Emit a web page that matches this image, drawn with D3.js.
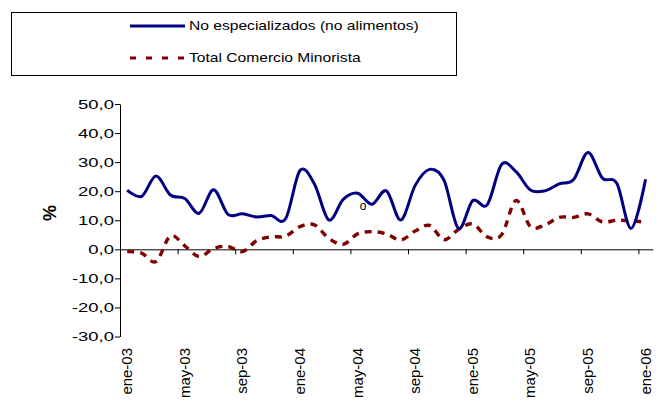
<!DOCTYPE html>
<html><head><meta charset="utf-8">
<script src="https://cdn.jsdelivr.net/npm/d3@7"></script>
<style>body{margin:0;background:#fff}svg{display:block}text{font-family:"Liberation Sans",Arial,sans-serif;fill:#000}</style>
</head><body><svg id="c" width="662" height="401"></svg>
<script>
const categories = ["ene-03","feb-03","mar-03","abr-03","may-03","jun-03","jul-03","ago-03","sep-03","oct-03","nov-03","dic-03",
"ene-04","feb-04","mar-04","abr-04","may-04","jun-04","jul-04","ago-04","sep-04","oct-04","nov-04","dic-04",
"ene-05","feb-05","mar-05","abr-05","may-05","jun-05","jul-05","ago-05","sep-05","oct-05","nov-05","dic-05","ene-06"];
const noEspecializados = [20.4,18.2,25.2,18.7,17.5,12.4,20.5,12.0,12.2,11.1,11.6,10.5,27.1,22.5,10.1,17.2,19.3,15.5,20.1,10.1,22.0,27.5,23.8,7.2,16.8,15.3,29.2,26.7,20.4,20.1,22.5,24.0,33.3,24.5,22.7,7.2,24.1];
const totalComercio = [-0.8,-1.3,-4.2,4.6,1.2,-2.5,0.3,1.0,-0.8,3.0,4.3,4.5,7.8,8.4,3.8,1.7,5.3,6.1,5.3,3.2,6.3,8.2,3.3,6.8,8.7,4.3,5.0,16.8,7.8,8.4,11.0,11.0,12.2,9.4,10.0,9.8,9.3];
const yTicks = [-30,-20,-10,0,10,20,30,40,50];
const seriesNames = ["No especializados (no alimentos)","Total Comercio Minorista"];

const svg = d3.select("#c");
const x = d3.scaleBand().domain(categories).range([120,652.8]).padding(0);
const xb = d3.scaleLinear().domain([0,categories.length]).range([120,652.8]);
const y = d3.scaleLinear().domain([-30,50]).range([336.5,104]);
const fmt = d => d.toFixed(1).replace(".", ",");

// Y axis
const ya = svg.append("g").attr("transform","translate(120,0)")
  .call(d3.axisLeft(y).tickValues(yTicks).tickSize(5).tickSizeOuter(0).tickFormat(fmt));
ya.select(".domain").attr("stroke","#000");
ya.selectAll(".tick line").attr("stroke","#000");
ya.selectAll(".tick text").attr("font-size",13).attr("font-family","Liberation Sans, Arial, sans-serif")
  .attr("x",-6/1.42).attr("transform","scale(1.42,1)").attr("fill","#000");

// X axis
const xa = svg.append("g").attr("transform",`translate(0,${y(0)})`)
  .call(d3.axisBottom(xb).tickValues(d3.range(0,categories.length+1,4)).tickSize(5).tickSizeOuter(0).tickFormat(""));
xa.select(".domain").attr("stroke","#000");
xa.selectAll(".tick line").attr("stroke","#000");

// X labels (every 4th category)
svg.append("g").selectAll("g").data(categories.filter((d,i)=>i%4===0)).join("g")
  .attr("transform", d => `translate(${x(d)+x.bandwidth()/2},348) rotate(-90)`)
  .append("text").attr("text-anchor","end").attr("dy","0.35em").attr("font-size",14)
  .attr("transform","scale(1.07,1)").text(d=>d);

// % label
svg.append("text").attr("transform","translate(50,213) rotate(-90)").attr("text-anchor","middle")
  .attr("dy","0.35em").attr("font-size",18).attr("font-weight","bold").text("%");

// lines
const line = d3.line().x((d,i)=>x(categories[i])+x.bandwidth()/2).y(d=>y(d)).curve(d3.curveCardinal.tension(0));
svg.append("path").datum(totalComercio).attr("d",line).attr("fill","none").attr("stroke","#800000")
  .attr("stroke-width",3.4).attr("stroke-dasharray","7,6");
svg.append("path").datum(noEspecializados).attr("d",line).attr("fill","none").attr("stroke","#000080")
  .attr("stroke-width",3);

// stray label
svg.append("text").attr("x",363).attr("y",210).attr("text-anchor","middle").attr("font-size",12).attr("fill","#333").text("o");

// Legend
const lg = svg.append("g");
lg.append("rect").attr("x",11.5).attr("y",12.5).attr("width",445).attr("height",63).attr("fill","#fff").attr("stroke","#000");
const colors = ["#000080","#800000"];
const dashes = [null,"6,10"];
seriesNames.forEach((name,i)=>{
  const yy = [26,58][i];
  lg.append("line").attr("x1",130).attr("x2",185).attr("y1",yy).attr("y2",yy)
    .attr("stroke",colors[i]).attr("stroke-width",i?3.2:3).attr("stroke-dasharray",dashes[i]);
  lg.append("g").attr("transform",`translate(189,${yy+4})`).append("text")
    .attr("font-size",12.5).attr("transform","scale(1.25,1)").text(name);
});
</script></body></html>
